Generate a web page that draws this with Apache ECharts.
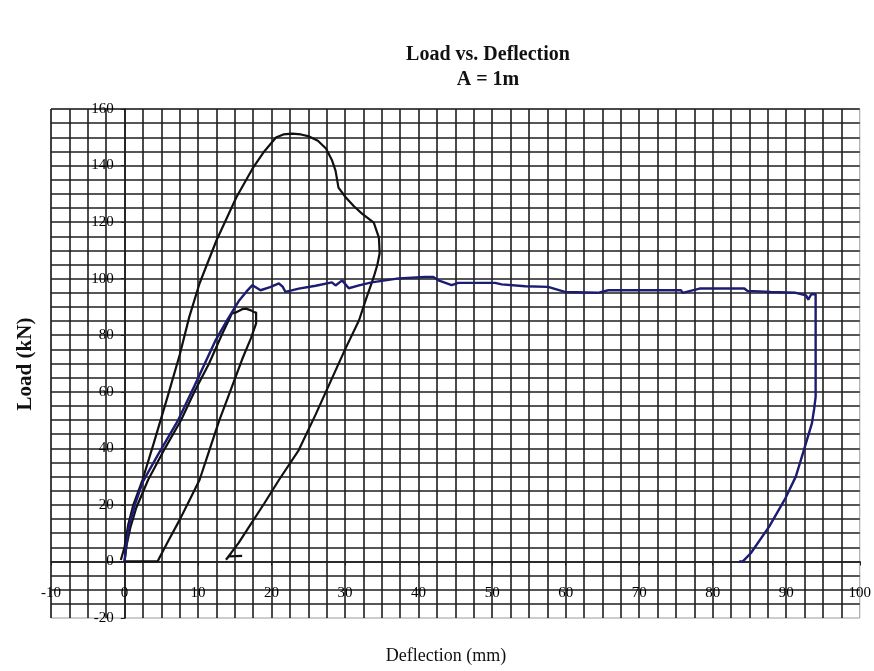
<!DOCTYPE html>
<html>
<head>
<meta charset="utf-8">
<script src="https://cdn.jsdelivr.net/npm/echarts@6/dist/echarts.min.js"></script>
<style>
  html, body { margin: 0; padding: 0; background: #fff; }
  #chart { width: 874px; height: 671px; }
</style>
</head>
<body>
<div id="chart"></div>
<script>
// ---- Data ----
const titleLines = ['Load vs. Deflection', 'A = 1m'];
const xAxisName = 'Deflection (mm)';
const yAxisName = 'Load (kN)';

const xMin = -10, xMax = 100, xStep = 10;
const yMin = -20, yMax = 160, yStep = 20;

// First (smaller) load cycle - black
const cycle1X = [0, 0.3, 0.8, 1.6, 3.2, 5.5, 7.7, 9.5, 11.5, 13.2, 14.6, 15.2, 16.0, 16.5, 17.2, 17.6, 17.9, 17.9, 17.2, 16.0, 14.5, 12.9, 11.5, 10.2, 8.8, 7.5, 6.0, 4.75, 4.5, 2.0, 0];
const cycle1Y = [0, 6, 12, 19, 28.8, 40, 50, 60, 70, 80, 87.7, 88.1, 89.2, 89.4, 88.8, 88.2, 88.0, 84.2, 79, 71.5, 61, 50, 39, 28.8, 21.5, 14.7, 7.5, 1.3, 0, 0, 0];

// Second (large) load cycle - black
const cycle2X = [-0.5, 0, 0.5, 1.2, 2.44, 4.0, 5.92, 7.5, 8.8, 10.2, 12.5, 15.2, 17.4, 19.0, 20.6, 21.6, 22.8, 24.0, 25.1, 26.3, 27.4, 28.2, 28.7, 29.1, 30.1, 31.2, 32.3, 33.9, 34.6, 34.7, 34.4, 33.9, 32.8, 31.9, 30.0, 28.0, 26.0, 23.7, 21.0, 19.0, 17.0, 15.5, 14.5, 13.8, 14.2, 16.0];
const cycle2Y = [0.5, 5, 13, 20, 28.8, 42, 58.8, 73, 86.4, 98.3, 113.5, 128.7, 138.9, 145, 149.9, 151, 151.3, 151, 150.3, 148.8, 146, 142, 138.2, 132.2, 128.7, 125.6, 123, 119.8, 114.5, 109, 105, 100.6, 92.4, 85.3, 75, 63.5, 52, 39.4, 28.8, 20.5, 12.5, 6.5, 3, 0.6, 1.8, 2.0];

// Monotonic test - navy blue
const monoX = [0, 0.2, 0.6, 1.4, 2.5, 4.5, 7.3, 9.5, 12.4, 14.0, 15.6, 16.6, 17.4, 18.5, 19.8, 21.0, 21.5, 21.9, 23.7, 26.0, 28.2, 28.7, 29.6, 30.5, 31.9, 33.6, 37.3, 40.9, 42.0, 42.7, 44.5, 45.4, 50.4, 51.3, 54.5, 57.6, 59.9, 64.4, 65.8, 75.7, 75.9, 78.2, 84.3, 84.7, 87.9, 91.3, 92.7, 93.0, 93.4, 94.0, 94.0, 93.8, 93.5, 92.4, 91.3, 89.9, 87.7, 85.2, 84.1, 83.6];
const monoY = [0, 5, 12.4, 20, 28.2, 37.5, 50, 62, 78.3, 85.5, 92.3, 95.5, 97.7, 95.9, 97, 98.3, 97.2, 95.3, 96.5, 97.5, 98.7, 97.6, 99.4, 96.6, 97.6, 98.7, 100.1, 100.6, 100.6, 99.4, 97.7, 98.5, 98.5, 98, 97.3, 97.1, 95.3, 95, 95.9, 95.9, 95, 96.5, 96.5, 95.7, 95.3, 95, 94.1, 92.6, 94.5, 94.5, 58.2, 54, 48.9, 39.4, 30, 22.4, 12.4, 3, 0, 0];

function zip(xs, ys) { return xs.map((x, i) => [x, ys[i]]); }

const W = 874, H = 671;
const gridL = 51, gridR = 11, gridT = 109, gridB = 53;
const gridW = W - gridL - gridR, gridH = H - gridT - gridB;
// move the axes so they cross at the origin (labels travel with them)
const xAxisOffset = -(0 - yMin) * gridH / (yMax - yMin);
const yAxisOffset = -(0 - xMin) * gridW / (xMax - xMin);

const serif = '"Liberation Serif", "DejaVu Serif", serif';
const gridColor = '#1e1e1e';

const chart = echarts.init(document.getElementById('chart'), null, { renderer: 'canvas' });
chart.setOption({
  animation: false,
  backgroundColor: '#ffffff',
  title: {
    text: titleLines.join('\n'),
    left: 483,
    top: 37,
    textAlign: 'center',
    textStyle: { fontFamily: serif, fontSize: 20, fontWeight: 'bold', color: '#111', lineHeight: 25 }
  },
  grid: {
    left: gridL, right: gridR, top: gridT, bottom: gridB,
    containLabel: false,
    show: true, borderColor: '#9a9a9a', borderWidth: 1
  },
  xAxis: {
    type: 'value',
    position: 'bottom',
    offset: xAxisOffset,
    min: xMin, max: xMax, interval: xStep,
    axisLine: { show: true, onZero: false, lineStyle: { color: gridColor, width: 1.6 } },
    axisTick: { show: true, length: 4, lineStyle: { color: gridColor } },
    axisLabel: { margin: 24, fontFamily: serif, fontSize: 15, color: '#000' },
    splitLine: { show: true, showMaxLine: false, lineStyle: { color: gridColor, width: 1.6 } },
    minorTick: { show: false, splitNumber: 4 },
    minorSplitLine: { show: true, lineStyle: { color: gridColor, width: 1.6 } }
  },
  yAxis: {
    type: 'value',
    position: 'left',
    offset: yAxisOffset,
    min: yMin, max: yMax, interval: yStep,
    axisLine: { show: true, onZero: false, lineStyle: { color: gridColor, width: 1.6 } },
    axisTick: { show: true, length: 4, lineStyle: { color: gridColor } },
    axisLabel: { margin: 11, fontFamily: serif, fontSize: 15, color: '#000' },
    splitLine: { show: true, showMinLine: false, lineStyle: { color: gridColor, width: 1.6 } },
    minorTick: { show: false, splitNumber: 4 },
    minorSplitLine: { show: true, lineStyle: { color: gridColor, width: 1.6 } }
  },
  graphic: [
    {
      type: 'text', x: 446, y: 656,
      style: { text: xAxisName, font: '18px ' + serif, fill: '#111', textAlign: 'center', textVerticalAlign: 'middle' }
    },
    {
      type: 'text', x: 26, y: 364, rotation: Math.PI / 2,
      style: { text: yAxisName, font: 'bold 21px ' + serif, fill: '#111', textAlign: 'center', textVerticalAlign: 'middle' }
    }
  ],
  series: [
    { name: 'Cycle 1', type: 'line', data: zip(cycle1X, cycle1Y), showSymbol: false, smooth: false,
      lineStyle: { color: '#111111', width: 2.2 }, z: 3 },
    { name: 'Cycle 2', type: 'line', data: zip(cycle2X, cycle2Y), showSymbol: false, smooth: false,
      lineStyle: { color: '#111111', width: 2.2 }, z: 3 },
    { name: 'Monotonic', type: 'line', data: zip(monoX, monoY), showSymbol: false, smooth: false,
      lineStyle: { color: '#1c1c72', width: 2.4 }, z: 4 }
  ]
});
</script>
</body>
</html>
